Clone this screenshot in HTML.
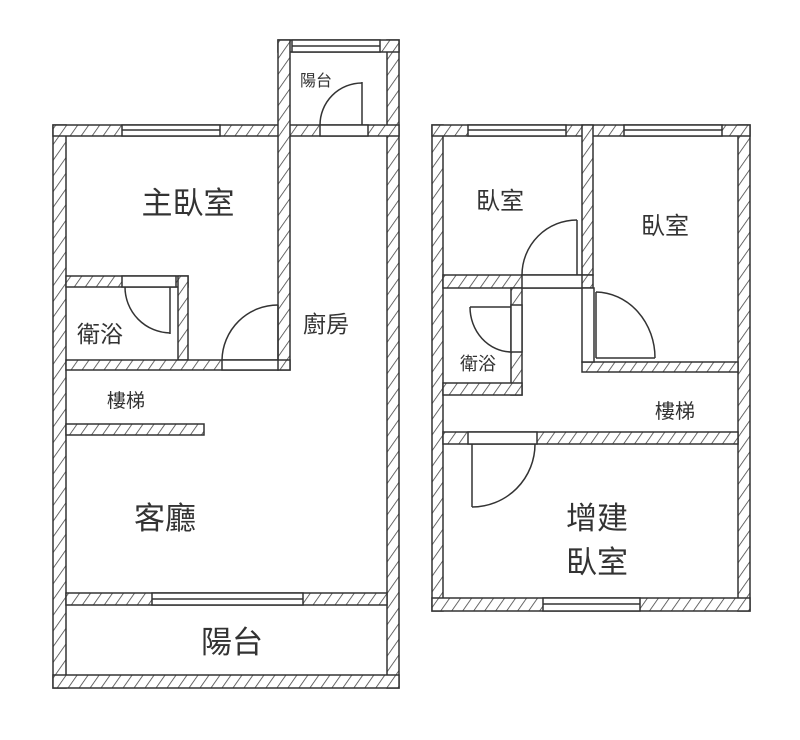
<!DOCTYPE html>
<html><head><meta charset="utf-8"><style>
html,body{margin:0;padding:0;background:#fff;}
svg{display:block;}
text{font-family:"Liberation Sans","Noto Sans CJK TC",sans-serif;fill:#333;}
</style></head><body>
<svg width="800" height="740" viewBox="0 0 800 740" xmlns="http://www.w3.org/2000/svg">
<defs>
<pattern id="h" width="9" height="9" patternUnits="userSpaceOnUse" patternTransform="rotate(35)">
<rect width="9" height="9" fill="#fff"/>
<line x1="0" y1="0" x2="0" y2="9" stroke="#444" stroke-width="1.6"/>
</pattern>
</defs>
<g stroke="#333" stroke-width="1.5">
<!-- LEFT PLAN walls -->
<rect x="53" y="125" width="13" height="563" fill="url(#h)"/>
<rect x="387" y="40" width="12" height="648" fill="url(#h)"/>
<rect x="53" y="675" width="346" height="13" fill="url(#h)"/>
<rect x="53" y="125" width="346" height="11" fill="url(#h)"/>
<rect x="278" y="40" width="121" height="12" fill="url(#h)"/>
<rect x="278" y="40" width="12" height="330" fill="url(#h)"/>
<rect x="66" y="276" width="122" height="11" fill="url(#h)"/>
<rect x="178" y="276" width="10" height="84" fill="url(#h)"/>
<rect x="66" y="360" width="224" height="10" fill="url(#h)"/>
<rect x="66" y="424" width="138" height="11" fill="url(#h)"/>
<rect x="66" y="593" width="321" height="12" fill="url(#h)"/>
<!-- openings left -->
<rect x="122" y="125" width="98" height="11" fill="#fff"/>
<line x1="122" y1="130" x2="220" y2="130"/>
<rect x="292" y="40" width="88" height="12" fill="#fff"/>
<line x1="292" y1="46" x2="380" y2="46"/>
<rect x="320" y="125" width="48" height="11" fill="#fff"/>
<rect x="122" y="276" width="54" height="11" fill="#fff"/>
<rect x="222" y="360" width="56" height="10" fill="#fff"/>
<rect x="152" y="593" width="151" height="12" fill="#fff"/>
<line x1="152" y1="599" x2="303" y2="599"/>
<!-- doors left -->
<line x1="362" y1="82" x2="362" y2="125"/>
<path d="M320 125 A42 42 0 0 1 362 83" fill="none"/>
<line x1="170" y1="287" x2="170" y2="334"/>
<path d="M125 287 A46 46 0 0 0 170 333" fill="none"/>
<line x1="278" y1="305" x2="278" y2="360"/>
<path d="M222 360 A56 56 0 0 1 278 305" fill="none"/>

<!-- RIGHT PLAN walls -->
<rect x="432" y="125" width="11" height="486" fill="url(#h)"/>
<rect x="738" y="125" width="12" height="486" fill="url(#h)"/>
<rect x="432" y="125" width="318" height="11" fill="url(#h)"/>
<rect x="432" y="598" width="318" height="13" fill="url(#h)"/>
<rect x="582" y="125" width="11" height="150" fill="url(#h)"/>
<rect x="443" y="275" width="150" height="13" fill="url(#h)"/>
<rect x="511" y="288" width="11" height="107" fill="url(#h)"/>
<rect x="443" y="383" width="79" height="12" fill="url(#h)"/>
<rect x="582" y="362" width="156" height="10" fill="url(#h)"/>
<rect x="582" y="288" width="12" height="74" fill="#fff"/>
<rect x="443" y="432" width="295" height="12" fill="url(#h)"/>
<!-- openings right -->
<rect x="468" y="125" width="98" height="11" fill="#fff"/>
<line x1="468" y1="130" x2="566" y2="130"/>
<rect x="624" y="125" width="98" height="11" fill="#fff"/>
<line x1="624" y1="130" x2="722" y2="130"/>
<rect x="522" y="275" width="60" height="13" fill="#fff"/>
<rect x="511" y="305" width="11" height="47" fill="#fff"/>
<rect x="468" y="432" width="69" height="12" fill="#fff"/>
<rect x="543" y="598" width="97" height="13" fill="#fff"/>
<line x1="543" y1="604" x2="640" y2="604"/>
<!-- doors right -->
<line x1="577" y1="220" x2="577" y2="275"/>
<path d="M522 275 A55 55 0 0 1 577 220" fill="none"/>
<line x1="596" y1="292" x2="596" y2="358"/>
<line x1="596" y1="358" x2="655" y2="358"/>
<path d="M596 292 A60 66 0 0 1 655 358" fill="none"/>
<line x1="470" y1="307" x2="511" y2="307"/>
<path d="M470 307 A42 45 0 0 0 511 352" fill="none"/>
<line x1="472" y1="444" x2="472" y2="507"/>
<path d="M472 507 A63 63 0 0 0 535 444" fill="none"/>
</g>
<!-- labels -->
<text x="188" y="214" font-size="31" text-anchor="middle">主臥室</text>
<text x="100" y="342" font-size="23" text-anchor="middle">衛浴</text>
<text x="326" y="332" font-size="23" text-anchor="middle">廚房</text>
<text x="126" y="407" font-size="19" text-anchor="middle">樓梯</text>
<text x="165" y="529" font-size="31" text-anchor="middle">客廳</text>
<text x="232" y="653" font-size="31" text-anchor="middle">陽台</text>
<text x="316" y="86" font-size="16" text-anchor="middle">陽台</text>
<text x="500" y="209" font-size="24" text-anchor="middle">臥室</text>
<text x="665" y="234" font-size="24" text-anchor="middle">臥室</text>
<text x="478" y="370" font-size="18" text-anchor="middle">衛浴</text>
<text x="675" y="418" font-size="20" text-anchor="middle">樓梯</text>
<text x="597" y="529" font-size="31" text-anchor="middle">增建</text>
<text x="597" y="573" font-size="31" text-anchor="middle">臥室</text>
</svg>
</body></html>
